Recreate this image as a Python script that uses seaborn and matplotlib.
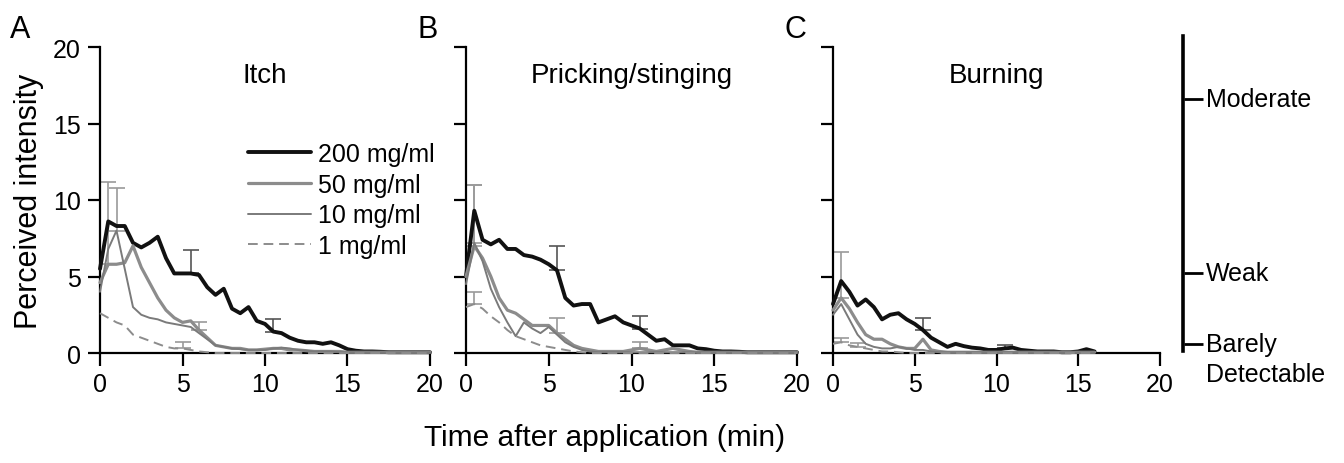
import numpy as np
import pandas as pd
import seaborn as sns
import matplotlib.pyplot as plt
from matplotlib.transforms import blended_transform_factory

# time grid, readings every 30 s
time_min = np.arange(0, 20.5, 0.5)

concentrations = ['200 mg/ml', '50 mg/ml', '10 mg/ml', '1 mg/ml']

# Itch
itch_200 = [5.5, 8.6, 8.3, 8.3, 7.2, 6.9, 7.2, 7.6, 6.2, 5.2,
            5.2, 5.2, 5.1, 4.3, 3.8, 4.2, 2.9, 2.6, 3.0, 2.1,
            1.9, 1.4, 1.3, 1.0, 0.8, 0.7, 0.7, 0.6, 0.7, 0.5,
            0.25, 0.15, 0.1, 0.1, 0.08, 0.05, 0.05, 0.05, 0.05, 0.05,
            0.05]
itch_50 = [4.6, 5.8, 5.8, 5.9, 7.0, 5.6, 4.6, 3.6, 2.8, 2.3,
           2.0, 2.1, 1.5, 1.0, 0.5, 0.4, 0.3, 0.3, 0.2, 0.2,
           0.25, 0.3, 0.3, 0.2, 0.2, 0.15, 0.1, 0.1, 0.1, 0.1,
           0.05, 0.05, 0.05, 0.05, 0.05, 0.05, 0.05, 0.05, 0.05, 0.05,
           0.05]
itch_10 = [4.0, 6.8, 8.0, 5.5, 3.0, 2.5, 2.3, 2.2, 2.0, 1.9,
           1.8, 1.7, 1.3, 0.9, 0.5, 0.4, 0.3, 0.25, 0.2, 0.2,
           0.2, 0.3, 0.35, 0.3, 0.2, 0.15, 0.1, 0.1, 0.1, 0.05,
           0.05, 0.05, 0.05, 0.05, 0.05, 0.05, 0.05, 0.05, 0.05, 0.05,
           0.05]
itch_1 = [2.6, 2.3, 2.0, 1.8, 1.2, 1.0, 0.8, 0.6, 0.4, 0.3,
          0.3, 0.2, 0.1, 0.05, 0.0, 0.0, 0.0, 0.0, 0.0, 0.0,
          0.0, 0.0, 0.0, 0.0, 0.0, 0.0, 0.0, 0.0, 0.0, 0.0,
          0.0, 0.0, 0.0, 0.0, 0.0, 0.0, 0.0, 0.0, 0.0, 0.0,
          0.0]

# Pricking/stinging
prick_200 = [5.0, 9.3, 7.4, 7.1, 7.4, 6.8, 6.8, 6.4, 6.3, 6.1,
             5.8, 5.4, 3.6, 3.1, 3.2, 3.2, 2.0, 2.2, 2.4, 2.0,
             1.8, 1.6, 1.2, 0.8, 0.9, 0.5, 0.5, 0.5, 0.3, 0.25,
             0.15, 0.1, 0.1, 0.08, 0.05, 0.05, 0.05, 0.05, 0.05, 0.05,
             0.05]
prick_50 = [5.0, 7.0, 6.2, 5.0, 3.6, 2.8, 2.6, 2.2, 1.8, 1.8,
            1.8, 1.3, 0.9, 0.5, 0.3, 0.2, 0.1, 0.1, 0.1, 0.1,
            0.2, 0.3, 0.2, 0.1, 0.2, 0.3, 0.2, 0.1, 0.05, 0.05,
            0.05, 0.05, 0.05, 0.05, 0.05, 0.05, 0.05, 0.05, 0.05, 0.05,
            0.05]
prick_10 = [4.5, 7.2, 6.0, 4.2, 3.0, 2.0, 1.1, 2.0, 1.6, 1.3,
            1.7, 1.2, 0.7, 0.4, 0.2, 0.1, 0.05, 0.05, 0.05, 0.05,
            0.05, 0.05, 0.05, 0.05, 0.05, 0.05, 0.05, 0.05, 0.05, 0.05,
            0.05, 0.05, 0.05, 0.05, 0.05, 0.05, 0.05, 0.05, 0.05, 0.05,
            0.05]
prick_1 = [3.0, 3.2, 2.9, 2.4, 2.0, 1.5, 1.1, 0.9, 0.7, 0.5,
           0.4, 0.3, 0.2, 0.1, 0.05, 0.0, 0.0, 0.0, 0.0, 0.0,
           0.0, 0.0, 0.0, 0.0, 0.0, 0.0, 0.0, 0.0, 0.0, 0.0,
           0.0, 0.0, 0.0, 0.0, 0.0, 0.0, 0.0, 0.0, 0.0, 0.0,
           0.0]

# Burning (recorded up to 16 min)
nan = np.nan
burn_200 = [3.2, 4.7, 4.0, 3.1, 3.5, 3.0, 2.2, 2.5, 2.6, 2.2,
            1.9, 1.5, 1.0, 0.7, 0.4, 0.6, 0.45, 0.35, 0.3, 0.2,
            0.2, 0.3, 0.35, 0.2, 0.15, 0.1, 0.1, 0.1, 0.05, 0.05,
            0.1, 0.25, 0.1, nan, nan, nan, nan, nan, nan, nan,
            nan]
burn_50 = [2.8, 3.6, 2.9, 2.0, 1.2, 0.9, 0.9, 0.6, 0.4, 0.3,
           0.3, 0.9, 0.2, 0.1, 0.05, 0.05, 0.05, 0.05, 0.05, 0.05,
           0.05, 0.05, 0.05, 0.05, 0.05, 0.05, 0.05, 0.05, 0.05, 0.05,
           0.05, 0.05, 0.05, nan, nan, nan, nan, nan, nan, nan,
           nan]
burn_10 = [2.5, 3.2, 2.2, 1.2, 0.6, 0.4, 0.3, 0.3, 0.4, 0.3,
           0.2, 0.2, 0.1, 0.05, 0.05, 0.05, 0.05, 0.05, 0.05, 0.05,
           0.05, 0.05, 0.05, 0.05, 0.05, 0.05, 0.05, 0.05, 0.05, 0.05,
           0.05, 0.05, 0.05, nan, nan, nan, nan, nan, nan, nan,
           nan]
burn_1 = [0.6, 0.7, 0.5, 0.4, 0.3, 0.2, 0.1, 0.1, 0.05, 0.0,
          0.0, 0.0, 0.0, 0.0, 0.0, 0.0, 0.0, 0.0, 0.0, 0.0,
          0.0, 0.0, 0.0, 0.0, 0.0, 0.0, 0.0, 0.0, 0.0, 0.0,
          0.0, 0.0, 0.0, nan, nan, nan, nan, nan, nan, nan,
          nan]

# one-sided SEM bars (concentration, time, sem)
itch_err_conc = ['50 mg/ml', '10 mg/ml', '200 mg/ml', '200 mg/ml', '50 mg/ml', '1 mg/ml']
itch_err_time = [0.5, 1.0, 5.5, 10.5, 6.0, 5.0]
itch_err_sem = [5.4, 2.8, 1.5, 0.8, 0.5, 0.4]

prick_err_conc = ['50 mg/ml', '10 mg/ml', '200 mg/ml', '50 mg/ml', '200 mg/ml', '50 mg/ml', '1 mg/ml']
prick_err_time = [0.5, 0.5, 5.5, 5.5, 10.5, 10.5, 0.5]
prick_err_sem = [4.0, 3.8, 1.6, 1.0, 0.85, 0.4, 0.8]

burn_err_conc = ['50 mg/ml', '200 mg/ml', '1 mg/ml', '1 mg/ml', '200 mg/ml']
burn_err_time = [0.5, 5.5, 0.5, 1.5, 10.5]
burn_err_sem = [3.0, 0.8, 0.3, 0.25, 0.2]

# gLMS anchors on the right
scale_labels = ['Moderate', 'Weak', 'Barely']
scale_values = [16.6, 5.2, 0.6]

panels = [
    ('A', 'Itch', [itch_200, itch_50, itch_10, itch_1], itch_err_conc, itch_err_time, itch_err_sem),
    ('B', 'Pricking/stinging', [prick_200, prick_50, prick_10, prick_1], prick_err_conc, prick_err_time, prick_err_sem),
    ('C', 'Burning', [burn_200, burn_50, burn_10, burn_1], burn_err_conc, burn_err_time, burn_err_sem),
]

styles = {
    '200 mg/ml': dict(color='#111111', lw=2.8, ls='-'),
    '50 mg/ml': dict(color='#8c8c8c', lw=2.3, ls='-'),
    '10 mg/ml': dict(color='#7a7a7a', lw=1.4, ls='-'),
    '1 mg/ml': dict(color='#8c8c8c', lw=1.4, ls=(0, (5, 3))),
}
err_colors = {'200 mg/ml': '#555555', '50 mg/ml': '#9a9a9a', '10 mg/ml': '#9a9a9a', '1 mg/ml': '#9a9a9a'}

sns.set_style('ticks', {'axes.edgecolor': 'black', 'text.color': 'black',
                        'xtick.color': 'black', 'ytick.color': 'black', 'axes.labelcolor': 'black'})
plt.rcParams['font.family'] = ['Liberation Sans', 'DejaVu Sans']

fig = plt.figure(figsize=(13.44, 4.64), dpi=100)
W, H = 1344, 464
lefts = [100, 466, 833]
widths = [330, 331, 327]
letter_x = [10, 418, 785]
bottom = 1 - 354 / H
height = 306 / H

for i, (letter, title, series, e_conc, e_time, e_sem) in enumerate(panels):
    ax = fig.add_axes([lefts[i] / W, bottom, widths[i] / W, height])
    df = pd.DataFrame({'time': np.tile(time_min, 4),
                       'value': np.concatenate(series),
                       'conc': np.repeat(concentrations, len(time_min))})
    for c in concentrations:
        st = styles[c]
        sns.lineplot(data=df[df['conc'] == c], x='time', y='value', ax=ax,
                     color=st['color'], lw=st['lw'], linestyle=st['ls'],
                     label=c if i == 0 else None, clip_on=False, zorder=3)
    # error bars, upper side only
    for c, t, s in zip(e_conc, e_time, e_sem):
        sub = df[(df['conc'] == c) & (df['time'] == t)]
        base = sub['value'].iloc[0]
        ax.errorbar([t], [base], yerr=[[0], [s]], fmt='none', ecolor=err_colors[c],
                    elinewidth=1.2, capsize=5.5, capthick=1.2, zorder=2)

    ax.set_xlim(0, 20)
    ax.set_ylim(0, 20)
    ax.set_xticks([0, 5, 10, 15, 20])
    ax.set_yticks([0, 5, 10, 15, 20])
    ax.set_xlabel('')
    ax.set_ylabel('')
    sns.despine(ax=ax)
    for sp in ['left', 'bottom']:
        ax.spines[sp].set_linewidth(1.6)
    ax.tick_params(axis='both', length=9, width=1.6, labelsize=18, pad=5)
    if i > 0:
        ax.set_yticklabels([])
    ax.set_title(title, fontsize=20, pad=0, y=0.885)
    fig.text(letter_x[i] / W, 1 - 30 / H, letter, fontsize=22, ha='left', va='center')

    if i == 0:
        ax.legend(loc='upper left', bbox_to_anchor=(0.45, 0.69), frameon=False,
                  fontsize=18, handlelength=2.5, handletextpad=0.3, labelspacing=0.27,
                  borderaxespad=0, borderpad=0)
        ax.set_ylabel('Perceived intensity', fontsize=22, labelpad=6)
    elif ax.get_legend() is not None:
        ax.get_legend().remove()

fig.text(605 / W, 1 - 438 / H, 'Time after application (min)', fontsize=21.5, ha='center', va='center')

# scale bar on the right
sax = fig.add_axes([1183 / W, 1 - 352 / H, 0.001, 315 / H])
sax.set_ylim(0.13, 20.7)
sax.set_xticks([])
sax.patch.set_visible(False)
for sp in ['top', 'right', 'bottom']:
    sax.spines[sp].set_visible(False)
sax.spines['left'].set_linewidth(2.6)
sax.set_yticks(scale_values)
sax.set_yticklabels([])
sax.tick_params(axis='y', left=False, right=True, direction='out', length=14, width=2)
trans = blended_transform_factory(fig.transFigure, sax.transData)
for lab, v in zip(scale_labels, scale_values):
    sax.text(1206 / W, v, lab, transform=trans, fontsize=18, ha='left', va='center')
sax.text(1206 / W, v - 2.0, 'Detectable', transform=trans, fontsize=18, ha='left', va='center')

fig.savefig('out.png', dpi=100)
